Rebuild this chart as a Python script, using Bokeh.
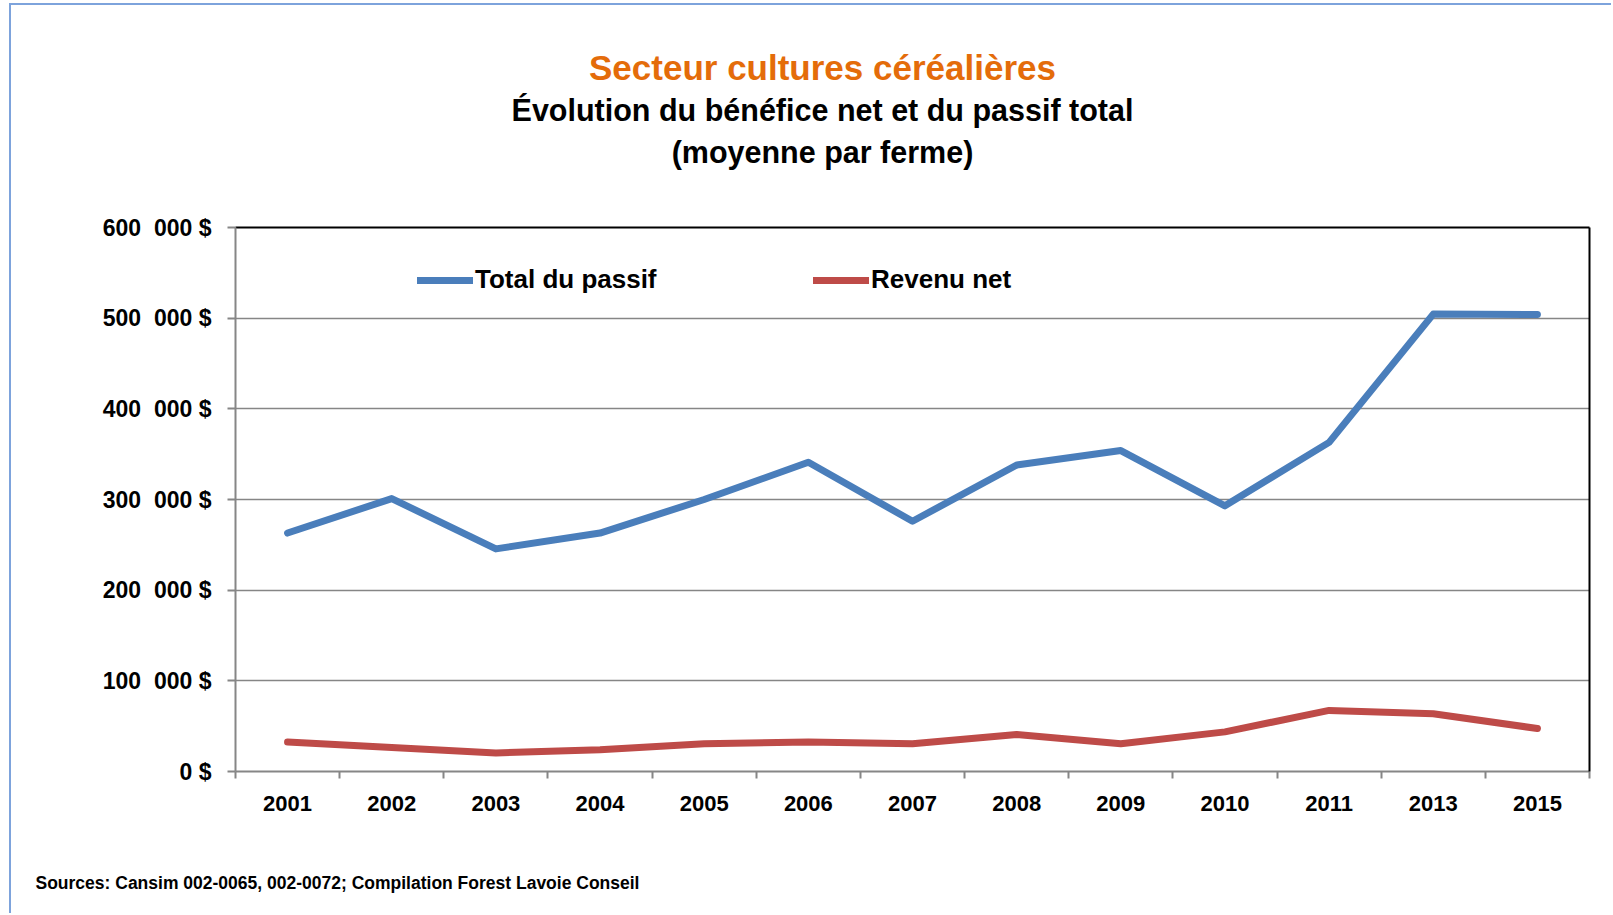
import numpy as np
from bokeh.plotting import figure
from bokeh.layouts import column
from bokeh.models import (Range1d, LinearAxis, FixedTicker, Label, Legend,
                          LegendItem, Grid, Title)
from bokeh.embed import file_html
from bokeh.resources import INLINE

# ---------------- data ----------------
years = ["2001", "2002", "2003", "2004", "2005", "2006", "2007",
         "2008", "2009", "2010", "2011", "2013", "2015"]
total_passif = [263000, 301000, 245500, 263000, 300000, 341000, 276000,
                338000, 354000, 293000, 363000, 504500, 504000]
revenu_net = [32500, 26500, 20500, 24000, 30500, 32500, 30500,
              40700, 30700, 43700, 67400, 63700, 47400]
y_ticks = [0, 100000, 200000, 300000, 400000, 500000, 600000]
y_tick_labels = ["0 $", "100\u00a0 000 $", "200\u00a0 000 $", "300\u00a0 000 $",
                 "400\u00a0 000 $", "500\u00a0 000 $", "600\u00a0 000 $"]
series_names = ["Total du passif", "Revenu net"]
title_main = "Secteur cultures céréalières"
title_sub1 = "Évolution du bénéfice net et du passif total"
title_sub2 = "(moyenne par ferme)"
source_text = "Sources: Cansim 002-0065, 002-0072; Compilation Forest Lavoie Conseil"

# ---------------- styling ----------------
FONT = "Liberation Sans"
BLUE = "#4A7EBB"
RED = "#BE4B48"
ORANGE = "#E46C0A"
GRAY = "#868686"
W = 1600
HEAD_H, MAIN_H, FOOT_H = 200, 626, 82
BORDER_L, BORDER_R = 224, 22   # frame edges shared by the stacked figures


def text_panel(h):
    # frames of stacked figures are aligned, so map data x to canvas pixels
    f = figure(width=W, height=h, output_backend="svg", toolbar_location=None,
               x_range=Range1d(BORDER_L, W - BORDER_R), y_range=Range1d(h, 0),
               x_axis_type=None, y_axis_type=None,
               min_border_left=BORDER_L, min_border_right=BORDER_R,
               min_border_top=0, min_border_bottom=0)
    f.outline_line_color = None
    f.grid.visible = False
    return f


# ---------------- header ----------------
head = text_panel(HEAD_H)
for txt, yy, size, col in ((title_main, 61.7, "35px", ORANGE),
                           (title_sub1, 104.3, "30.5px", "black"),
                           (title_sub2, 146.7, "30.5px", "black")):
    head.add_layout(Label(x=811, y=yy, text=txt, text_align="center",
                          text_baseline="alphabetic", text_font=FONT,
                          text_font_style="bold", text_font_size=size,
                          text_color=col))

# ---------------- main chart ----------------
n = len(years)
centers = list(np.arange(n) + 0.5)
bounds = list(np.arange(n + 1).astype(float))

p = figure(width=W, height=MAIN_H, output_backend="svg", toolbar_location=None,
           x_range=Range1d(0, n), y_range=Range1d(0, 600000),
           x_axis_type=None, y_axis_type=None,
           min_border_left=BORDER_L, min_border_right=BORDER_R,
           min_border_top=22, min_border_bottom=60)
p.outline_line_color = None

yticker = FixedTicker(ticks=y_ticks)
xticker = FixedTicker(ticks=centers, minor_ticks=bounds)

p.add_layout(Grid(dimension=1, ticker=yticker, grid_line_color=GRAY,
                  grid_line_width=1.6))

yaxis = LinearAxis(ticker=yticker,
                   major_label_overrides={t: l for t, l in zip(y_ticks, y_tick_labels)},
                   axis_line_color=GRAY, axis_line_width=2,
                   major_tick_line_color=GRAY, major_tick_line_width=2,
                   major_tick_out=8, major_tick_in=0,
                   minor_tick_line_color=None,
                   major_label_standoff=16,
                   major_label_text_font=FONT, major_label_text_font_style="bold",
                   major_label_text_font_size="23px", major_label_text_color="black")
p.add_layout(yaxis, "left")

xaxis = LinearAxis(ticker=xticker,
                   major_label_overrides={c: y for c, y in zip(centers, years)},
                   axis_line_color=GRAY, axis_line_width=2,
                   major_tick_line_color=None, major_tick_out=0, major_tick_in=0,
                   minor_tick_line_color=GRAY, minor_tick_line_width=2,
                   minor_tick_out=7, minor_tick_in=0,
                   major_label_standoff=17,
                   major_label_text_font=FONT, major_label_text_font_style="bold",
                   major_label_text_font_size="22px", major_label_text_color="black")
p.add_layout(xaxis, "below")

for loc in ("above", "right"):
    ax = LinearAxis(ticker=FixedTicker(ticks=[]), axis_line_color="black",
                    axis_line_width=2, major_tick_line_color=None,
                    minor_tick_line_color=None, major_label_text_font_size="0px",
                    major_label_standoff=0, major_tick_out=0)
    p.add_layout(ax, loc)

r1 = p.line(centers, total_passif, line_color=BLUE, line_width=7,
            line_cap="round", line_join="round")
r2 = p.line(centers, revenu_net, line_color=RED, line_width=7,
            line_cap="round", line_join="round")

for r, name, xloc in ((r1, series_names[0], 182), (r2, series_names[1], 578)):
    lg = Legend(items=[LegendItem(label=name, renderers=[r])],
                location=(xloc, 476), orientation="horizontal",
                glyph_width=56, glyph_height=30, label_height=30,
                label_standoff=2, padding=0, margin=0, spacing=0,
                border_line_color=None, background_fill_alpha=0,
                label_text_font=FONT, label_text_font_style="bold",
                label_text_font_size="26px", label_text_color="black")
    p.add_layout(lg, "center")

# ---------------- footer (source note as an unclipped Title) ----------------
foot = text_panel(FOOT_H)
foot.add_layout(Title(text=source_text, align="left", offset=-200,
                      vertical_align="bottom", standoff=0,
                      text_font=FONT, text_font_style="bold",
                      text_font_size="17.5px", text_color="black"), "above")
foot.add_layout(Title(text=" ", text_font_size="1px", standoff=36), "above")

layout = column(head, p, foot, spacing=0)
layout.styles = {"border-top": "2px solid #7DA3DC",
                 "border-left": "2px solid #7DA3DC",
                 "margin-top": "3px", "margin-left": "9px"}

open("out.html", "w").write(file_html(layout, INLINE))
